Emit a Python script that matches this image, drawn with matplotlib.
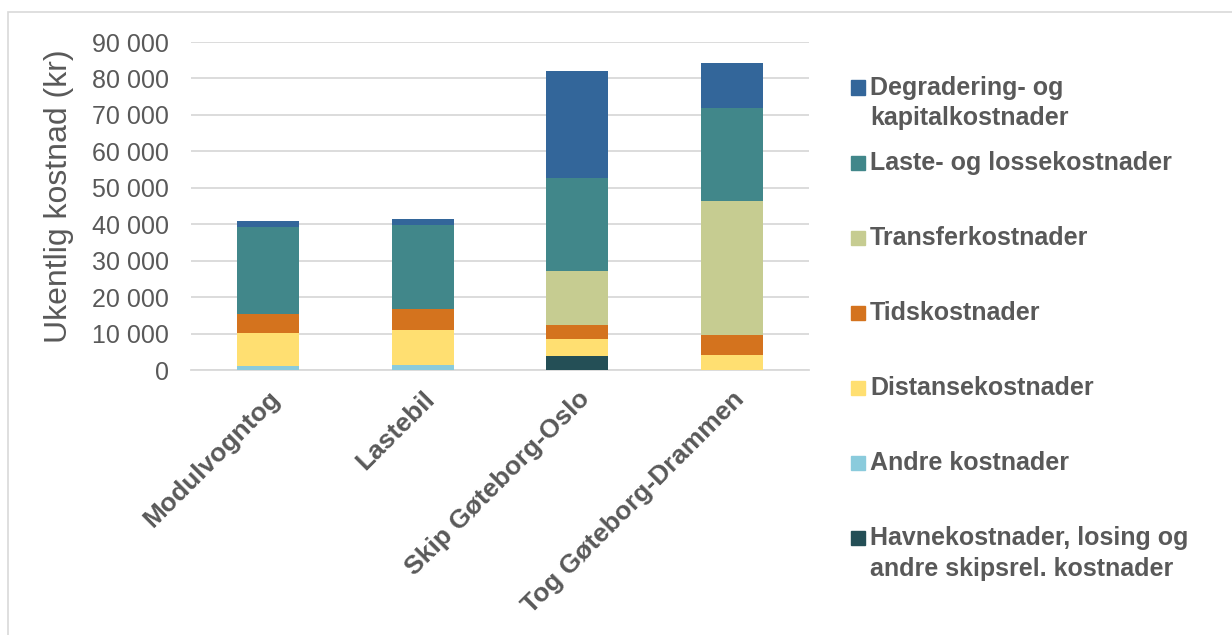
import matplotlib
matplotlib.use("Agg")
import matplotlib.pyplot as plt
from matplotlib.patches import Rectangle
from matplotlib.ticker import FuncFormatter, MultipleLocator

plt.rcParams['font.family'] = ['Liberation Sans', 'DejaVu Sans']

categories = ['Modulvogntog', 'Lastebil', 'Skip Gøteborg-Oslo', 'Tog Gøteborg-Drammen']

# ukentlige kostnader (kr), fra bunnen av stabelen og oppover
havne = [0, 0, 3800, 0]
andre = [1200, 1300, 0, 0]
distanse = [8900, 9800, 4700, 4000]
tid = [5200, 5700, 3800, 5700]
transfer = [0, 0, 14900, 36700]
laste = [23900, 22900, 25400, 25500]
degradering = [1700, 1800, 29500, 12400]

series = [
    ('Havnekostnader, losing og\nandre skipsrel. kostnader', havne, '#244F56'),
    ('Andre kostnader', andre, '#8ACBDC'),
    ('Distansekostnader', distanse, '#FFDF71'),
    ('Tidskostnader', tid, '#D4731E'),
    ('Transferkostnader', transfer, '#C6CC91'),
    ('Laste- og lossekostnader', laste, '#41878A'),
    ('Degradering- og\nkapitalkostnader', degradering, '#33669A'),
]

grey = '#595959'
W, H = 1232, 635
fig = plt.figure(figsize=(W / 100, H / 100), dpi=100)
ax = fig.add_axes([191 / W, 1 - 370 / H, 618 / W, 328 / H])

x = list(range(len(categories)))
bottom = [0] * len(categories)
for name, vals, col in series:
    ax.bar(x, vals, width=0.4, bottom=bottom, color=col, zorder=3)
    bottom = [b + v for b, v in zip(bottom, vals)]

ax.set_xlim(-0.5, len(categories) - 0.5)
ax.set_ylim(0, 90000)
ax.yaxis.set_major_locator(MultipleLocator(10000))
ax.yaxis.set_major_formatter(FuncFormatter(lambda v, p: f'{int(v):,}'.replace(',', ' ')))
ax.grid(axis='y', color='#D9D9D9', linewidth=1.3, zorder=0)
for s in ['top', 'right', 'left']:
    ax.spines[s].set_visible(False)
ax.spines['bottom'].set_color('#D9D9D9')
ax.spines['bottom'].set_linewidth(1.3)

ax.tick_params(axis='y', length=0, pad=16, labelsize=18, labelcolor=grey)
ax.tick_params(axis='x', length=0, pad=12, labelsize=19, labelcolor=grey)
ax.set_xticks(x)
ax.set_xticklabels(categories, rotation=45, ha='right', rotation_mode='anchor',
                   fontweight='bold')

ax.set_ylabel('Ukentlig kostnad (kr)', fontsize=23, color=grey)
ax.yaxis.set_label_coords(-0.19, 0.53)

# legende, øverste serie først
for i, (name, vals, col) in enumerate(reversed(series)):
    yc = 87.5 + 75.1 * i
    fig.patches.append(Rectangle((851 / W, 1 - (yc + 7) / H), 14 / W, 14 / H,
                                 transform=fig.transFigure, color=col))
    for j, line in enumerate(name.split('\n')):
        fig.text(870 / W, 1 - (yc + 31 * j) / H, line, fontsize=18,
                 fontweight='bold', color=grey, va='center', ha='left')

# ramme rundt diagrammet
fig.patches.append(Rectangle((8 / W, -0.1), 1.2, 1.1 - 12 / H,
                             transform=fig.transFigure, fill=False,
                             edgecolor='#D9D9D9', linewidth=1.2))

fig.savefig('out.png', dpi=100, facecolor='white')
